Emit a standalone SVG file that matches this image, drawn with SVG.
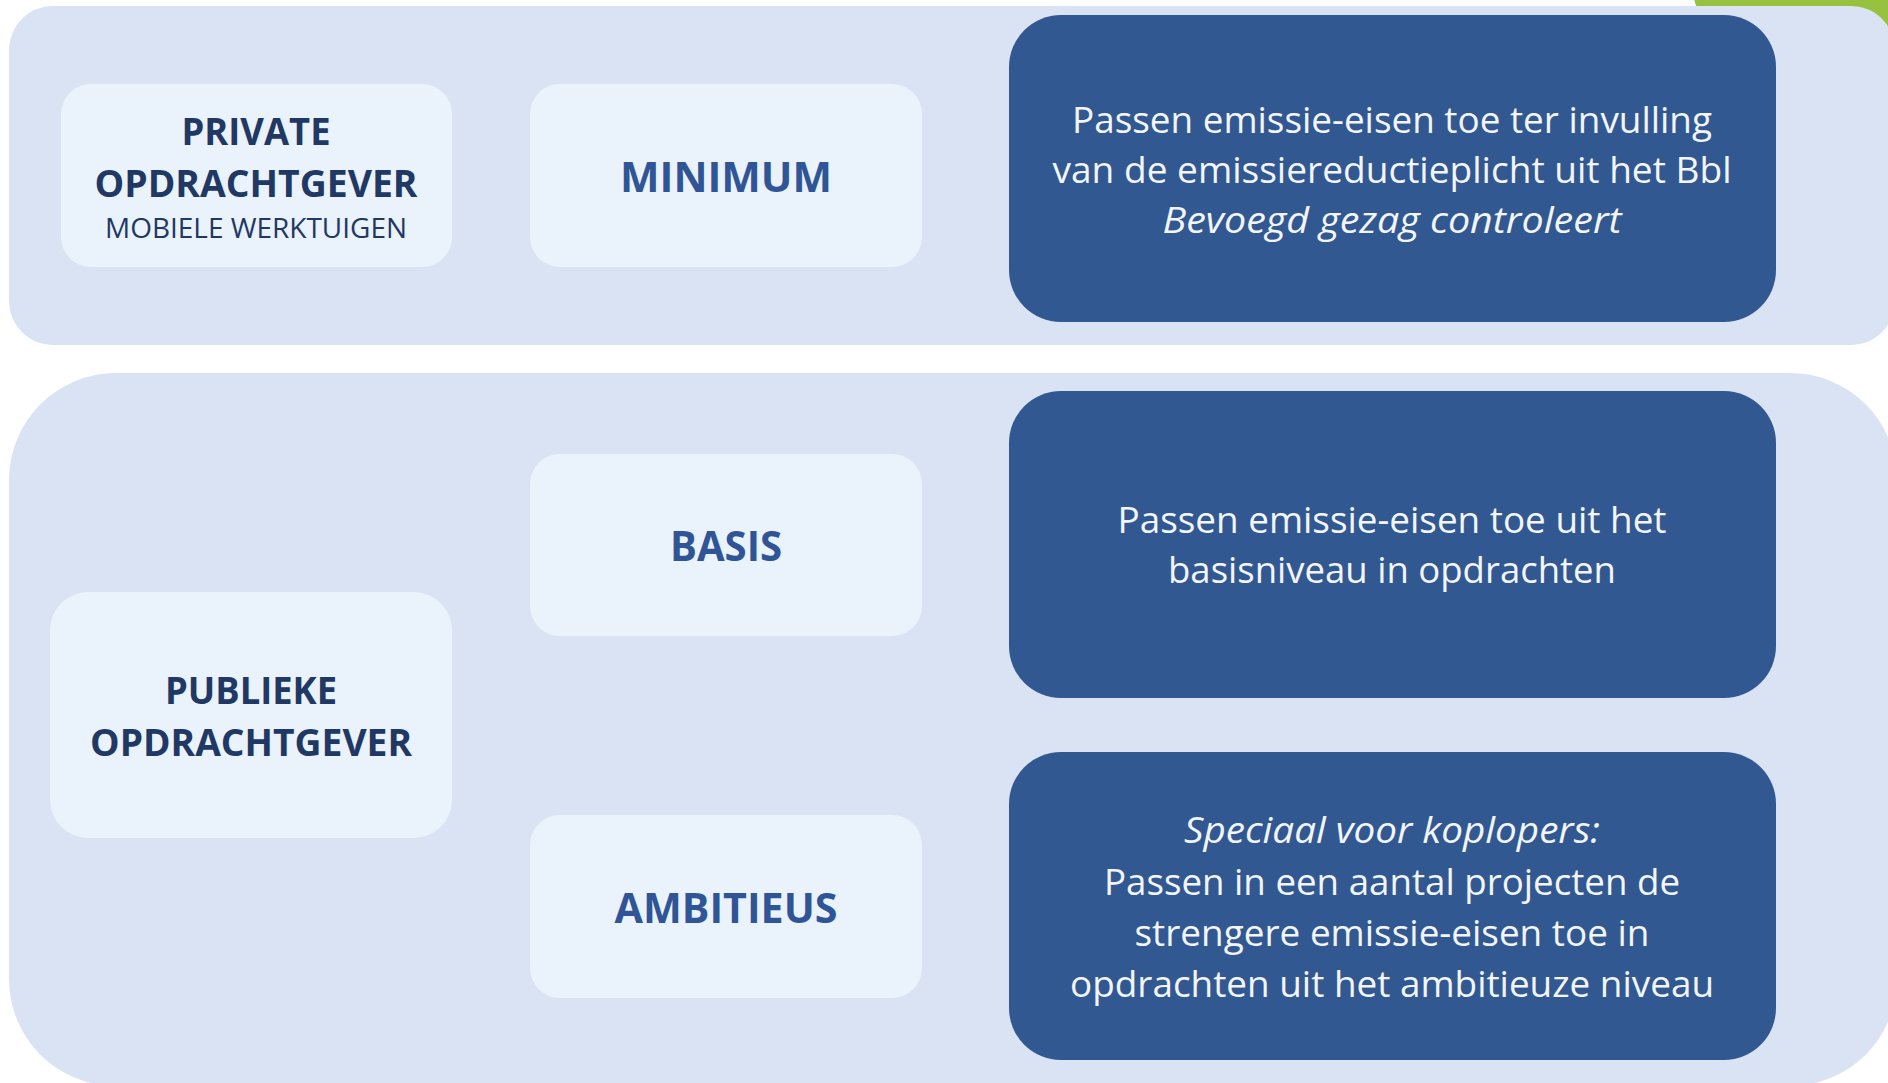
<svg xmlns="http://www.w3.org/2000/svg" width="1888" height="1083" viewBox="0 0 1888 1083">
  <style>
    .panel { fill: #DAE3F3; }
    .tile { fill: #EAF2FC; }
    .card { fill: #325892; }
    .who { font-family: "Open Sans", "Liberation Sans", sans-serif; font-weight: 700; fill: #1F3864; text-anchor: middle; }
    .sub { font-family: "Open Sans", "Liberation Sans", sans-serif; font-weight: 400; fill: #1F3864; text-anchor: middle; }
    .level { font-family: "Open Sans", "Liberation Sans", sans-serif; font-weight: 700; fill: #2F5597; text-anchor: middle; font-size: 42px; }
    .desc { font-family: "Open Sans", "Liberation Sans", sans-serif; font-weight: 400; fill: #F2F5FA; text-anchor: middle; font-size: 36px; }
    .em { font-style: italic; }
  </style>

  <!-- background -->
  <rect x="0" y="0" width="1888" height="1083" fill="#FFFFFF"/>

  <!-- green accent peeking out at the top right -->
  <rect x="1693" y="-60" width="300" height="90" rx="40" fill="#97C23F"/>

  <!-- band: private clients -->
  <g id="band-private">
    <rect class="panel" x="9" y="6" width="1886" height="339" rx="44"/>
  </g>

  <!-- band: public clients -->
  <g id="band-public">
    <rect class="panel" x="9" y="373" width="1888" height="713" rx="107"/>
  </g>

  <g id="private-client">
    <rect class="tile" x="61" y="84" width="391" height="183" rx="30"/>
    <text class="who" x="256" y="145" font-size="37" textLength="149" lengthAdjust="spacingAndGlyphs">PRIVATE</text>
    <text class="who" x="256" y="197" font-size="37" textLength="323" lengthAdjust="spacingAndGlyphs">OPDRACHTGEVER</text>
    <text class="sub" x="256" y="238" font-size="27" textLength="302" lengthAdjust="spacingAndGlyphs">MOBIELE WERKTUIGEN</text>
  </g>

  <g id="level-minimum">
    <rect class="tile" x="530" y="84" width="392" height="183" rx="30"/>
    <text class="level" x="726" y="192" textLength="212" lengthAdjust="spacingAndGlyphs">MINIMUM</text>
  </g>

  <g id="desc-minimum">
    <rect class="card" x="1009" y="15" width="767" height="307" rx="52"/>
    <text class="desc" x="1392" y="133" textLength="640" lengthAdjust="spacingAndGlyphs">Passen emissie-eisen toe ter invulling</text>
    <text class="desc" x="1392" y="183" textLength="679" lengthAdjust="spacingAndGlyphs">van de emissiereductieplicht uit het Bbl</text>
    <text class="desc em" x="1392" y="233" textLength="459" lengthAdjust="spacingAndGlyphs">Bevoegd gezag controleert</text>
  </g>

  <g id="public-client">
    <rect class="tile" x="50" y="592" width="402" height="246" rx="38"/>
    <text class="who" x="251" y="704" font-size="37" textLength="172" lengthAdjust="spacingAndGlyphs">PUBLIEKE</text>
    <text class="who" x="251" y="756" font-size="37" textLength="322" lengthAdjust="spacingAndGlyphs">OPDRACHTGEVER</text>
  </g>

  <g id="level-basis">
    <rect class="tile" x="530" y="454" width="392" height="182" rx="30"/>
    <text class="level" x="726" y="561" textLength="112" lengthAdjust="spacingAndGlyphs">BASIS</text>
  </g>

  <g id="desc-basis">
    <rect class="card" x="1009" y="391" width="767" height="307" rx="52"/>
    <text class="desc" x="1392" y="533" textLength="549" lengthAdjust="spacingAndGlyphs">Passen emissie-eisen toe uit het</text>
    <text class="desc" x="1392" y="583" textLength="448" lengthAdjust="spacingAndGlyphs">basisniveau in opdrachten</text>
  </g>

  <g id="level-ambitieus">
    <rect class="tile" x="530" y="815" width="392" height="183" rx="30"/>
    <text class="level" x="726" y="923" textLength="223" lengthAdjust="spacingAndGlyphs">AMBITIEUS</text>
  </g>

  <g id="desc-ambitieus">
    <rect class="card" x="1009" y="752" width="767" height="308" rx="52"/>
    <text class="desc em" x="1392" y="843" textLength="416" lengthAdjust="spacingAndGlyphs">Speciaal voor koplopers:</text>
    <text class="desc" x="1392" y="895" textLength="576" lengthAdjust="spacingAndGlyphs">Passen in een aantal projecten de</text>
    <text class="desc" x="1392" y="946" textLength="515" lengthAdjust="spacingAndGlyphs">strengere emissie-eisen toe in</text>
    <text class="desc" x="1392" y="997" textLength="644" lengthAdjust="spacingAndGlyphs">opdrachten uit het ambitieuze niveau</text>
  </g>

  <!-- no connectors between the tiles -->
  <g id="connectors"></g>
</svg>
